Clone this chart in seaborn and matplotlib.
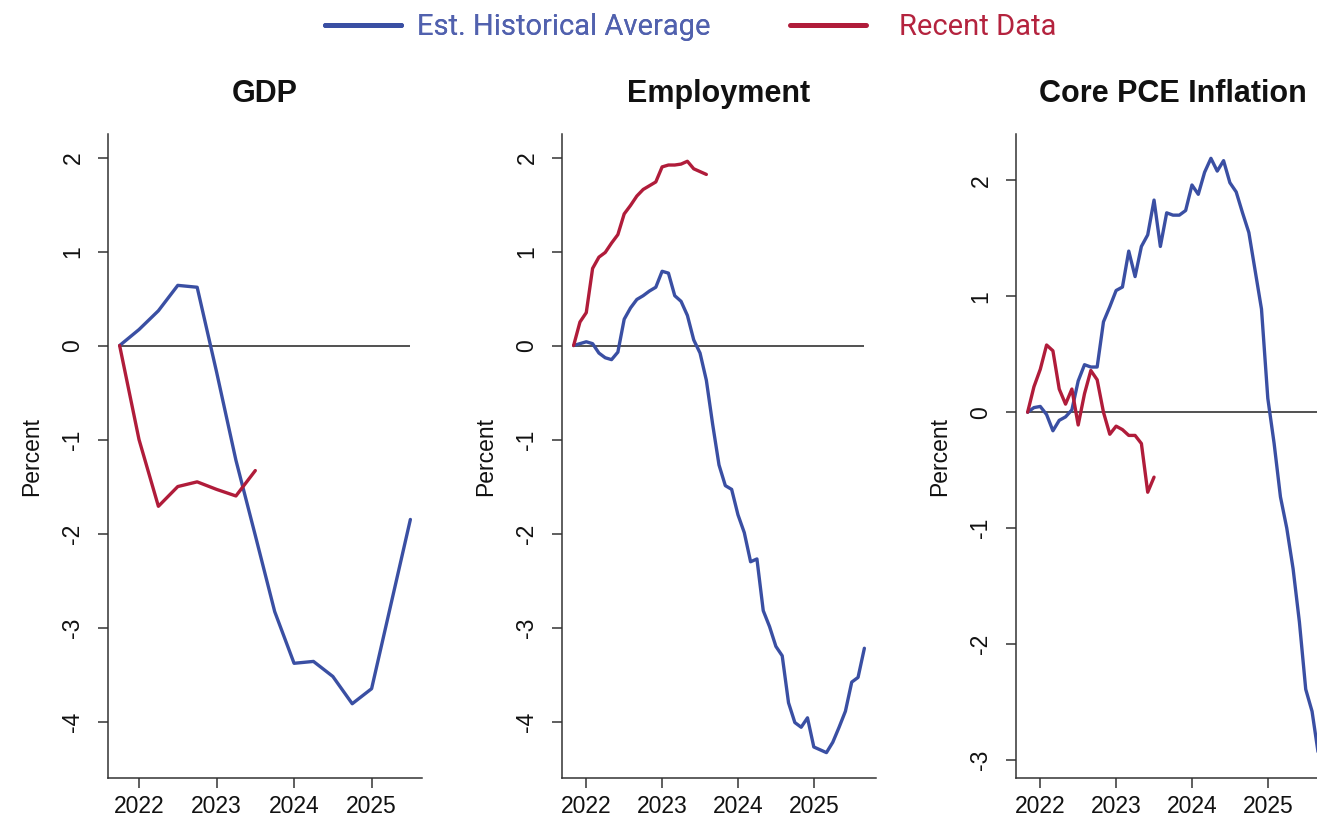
import matplotlib
matplotlib.use("Agg")
import matplotlib.pyplot as plt
import seaborn as sns
from matplotlib.lines import Line2D

sns.set_theme(style="ticks")
plt.rcParams["font.family"] = ["Liberation Sans", "DejaVu Sans"]

BLUE = "#3a4fa3"
RED = "#b01c3a"
BLUE_TXT = "#5161ae"
RED_TXT = "#b4233e"

# GDP: quarterly, starting 2021Q4
gdp_dates = [2021.75 + 0.25 * i for i in range(16)]
gdp_hist = [0.0, 0.17, 0.37, 0.64, 0.62, -0.28, -1.22, -2.02,
            -2.83, -3.38, -3.36, -3.52, -3.81, -3.65, -2.75, -1.85]
gdp_recent = [0.0, -1.00, -1.71, -1.50, -1.45, -1.53, -1.60, -1.33]

# Employment and core PCE: monthly, starting Nov 2021
month_dates = [2021 + 10 / 12 + i / 12 for i in range(47)]
emp_hist = [0.0, 0.02, 0.04, 0.02, -0.08, -0.13, -0.15, -0.07, 0.28, 0.40,
            0.49, 0.53, 0.58, 0.62, 0.79, 0.77, 0.53, 0.47, 0.32, 0.06,
            -0.08, -0.37, -0.84, -1.27, -1.49, -1.53, -1.80, -1.99, -2.30, -2.27,
            -2.82, -2.99, -3.20, -3.30, -3.80, -4.01, -4.06, -3.96, -4.27, -4.30,
            -4.33, -4.22, -4.06, -3.89, -3.58, -3.53, -3.22]
emp_recent = [0.0, 0.25, 0.35, 0.82, 0.94, 0.99, 1.09, 1.18, 1.40, 1.49,
              1.59, 1.66, 1.70, 1.74, 1.90, 1.92, 1.92, 1.93, 1.96, 1.88,
              1.85, 1.82]
pce_hist = [0.0, 0.04, 0.05, -0.02, -0.16, -0.07, -0.04, 0.02, 0.27, 0.41,
            0.39, 0.39, 0.78, 0.91, 1.05, 1.08, 1.39, 1.17, 1.43, 1.53,
            1.83, 1.43, 1.72, 1.70, 1.70, 1.74, 1.96, 1.88, 2.07, 2.19,
            2.08, 2.17, 1.98, 1.90, 1.72, 1.55, 1.22, 0.89, 0.12, -0.27,
            -0.73, -1.00, -1.35, -1.81, -2.39, -2.58, -2.95]
pce_recent = [0.0, 0.22, 0.37, 0.58, 0.53, 0.20, 0.07, 0.20, -0.11, 0.16,
              0.36, 0.28, 0.0, -0.19, -0.12, -0.15, -0.20, -0.20, -0.27, -0.69,
              -0.56]

titles = ["GDP", "Employment", "Core PCE Inflation"]
year_ticks = [2022, 2023, 2024, 2025]

panels = [
    dict(title=titles[0], dates=gdp_dates, hist=gdp_hist, recent=gdp_recent,
         xlim=(2021.6, 2025.65), ylim=(-4.6, 2.25), yticks=[-4, -3, -2, -1, 0, 1, 2]),
    dict(title=titles[1], dates=month_dates, hist=emp_hist, recent=emp_recent,
         xlim=(2021.68, 2025.82), ylim=(-4.6, 2.25), yticks=[-4, -3, -2, -1, 0, 1, 2]),
    dict(title=titles[2], dates=month_dates, hist=pce_hist, recent=pce_recent,
         xlim=(2021.68, 2025.82), ylim=(-3.155, 2.40), yticks=[-3, -2, -1, 0, 1, 2]),
]

W, H = 1317, 824
fig = plt.figure(figsize=(W / 100, H / 100), dpi=100)

ax_lefts = [108, 562, 1016]
ax_w = 314
ax_top, ax_bot = 134, 778

for left, p in zip(ax_lefts, panels):
    ax = fig.add_axes([left / W, 1 - ax_bot / H, ax_w / W, (ax_bot - ax_top) / H])
    ax.hlines(0, p["dates"][0], p["dates"][-1], color="#222222", linewidth=1.1, zorder=1)
    sns.lineplot(x=p["dates"], y=p["hist"], ax=ax, color=BLUE, linewidth=2.4,
                 estimator=None, sort=False, zorder=2)
    sns.lineplot(x=p["dates"][:len(p["recent"])], y=p["recent"], ax=ax, color=RED,
                 linewidth=2.4, estimator=None, sort=False, zorder=3)
    ax.set_xlim(*p["xlim"])
    ax.set_ylim(*p["ylim"])
    ax.set_xticks(year_ticks)
    ax.set_xticklabels([str(y) for y in year_ticks])
    ax.set_yticks(p["yticks"])
    ax.set_yticklabels([str(v) for v in p["yticks"]])
    for s in ["top", "right"]:
        ax.spines[s].set_visible(False)
    for s in ["left", "bottom"]:
        ax.spines[s].set_color("#333333")
        ax.spines[s].set_linewidth(1.1)
    ax.tick_params(axis="both", length=7, width=1.1, color="#333333",
                   labelsize=16.5, labelcolor="#111111")
    ax.tick_params(axis="x", pad=5)
    ax.tick_params(axis="y", pad=10, labelrotation=90)
    for lbl in ax.get_yticklabels():
        lbl.set_va("center")
    ax.set_xlabel("")
    ax.set_ylabel("Percent", fontsize=16.5, color="#111111", labelpad=13)
    ax.set_title(p["title"], fontsize=22, fontweight="bold", color="#111111", pad=23)
    ax.grid(False)

# legend across the top
leg_font = ["Roboto", "DejaVu Sans"]
h1 = Line2D([], [], color=BLUE, linewidth=3.6)
h2 = Line2D([], [], color=RED, linewidth=3.6)
ly = 1 - 27 / H
leg1 = fig.legend([h1], ["Est. Historical Average"], loc="center left",
                  bbox_to_anchor=(325 / W, ly), frameon=False, borderpad=0,
                  borderaxespad=0, handlelength=2.6, handletextpad=0.55,
                  prop={"family": leg_font, "size": 21})
leg1.get_texts()[0].set_color(BLUE_TXT)
leg2 = fig.legend([h2], ["Recent Data"], loc="center left",
                  bbox_to_anchor=(790 / W, ly), frameon=False, borderpad=0,
                  borderaxespad=0, handlelength=2.6, handletextpad=1.15,
                  prop={"family": leg_font, "size": 21})
leg2.get_texts()[0].set_color(RED_TXT)
fig.add_artist(leg1)

fig.savefig("out.png", dpi=100)
